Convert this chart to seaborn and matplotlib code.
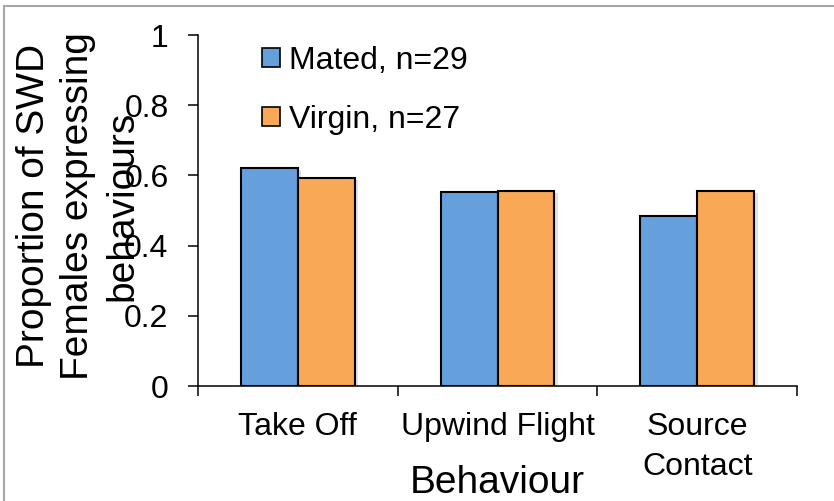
import matplotlib
matplotlib.use("Agg")
import matplotlib.pyplot as plt
import matplotlib.patheffects as pe
from matplotlib.lines import Line2D
from matplotlib.patches import Patch
from matplotlib.ticker import FixedLocator
import pandas as pd
import seaborn as sns

# Proportion of females showing each behaviour in the wind tunnel
behaviours = ["Take Off", "Upwind Flight", "Source\nContact"]
mated = [0.621, 0.552, 0.483]    # n = 29
virgin = [0.593, 0.556, 0.556]   # n = 27
groups = ["Mated, n=29", "Virgin, n=27"]
colors = ["#65A0DC", "#F9A855"]
ytick_values = [0, 0.2, 0.4, 0.6, 0.8, 1.0]
ytick_labels = ["0", "0.2", "0.4", "0.6", "0.8", "1"]

df = pd.DataFrame({
    "Behaviour": behaviours * 2,
    "Proportion": mated + virgin,
    "Group": [groups[0]] * 3 + [groups[1]] * 3,
})

sns.set_style("ticks")
plt.rcParams["font.family"] = ["Liberation Sans", "DejaVu Sans"]
plt.rcParams["text.color"] = "black"
plt.rcParams["xtick.color"] = "black"
plt.rcParams["ytick.color"] = "black"
plt.rcParams["axes.labelcolor"] = "black"

W, H = 834, 501
fig = plt.figure(figsize=(W / 100, H / 100), dpi=100)
ax = fig.add_axes([198 / W, 1 - 386 / H, (797 - 198) / W, (386 - 35) / H])

sns.barplot(data=df, x="Behaviour", y="Proportion", hue="Group",
            palette=colors, saturation=1, width=0.57, errorbar=None,
            edgecolor="black", linewidth=1.5, legend=False, ax=ax)

for bar in ax.patches:
    bar.set_path_effects([
        pe.SimplePatchShadow(offset=(2.5, -1.5), shadow_rgbFace="#888888", alpha=0.25),
        pe.Normal(),
    ])

ax.set_xlim(-0.5, 2.5)
ax.set_ylim(0, 1)
sns.despine(ax=ax)
for side in ("left", "bottom"):
    ax.spines[side].set_linewidth(1.1)
    ax.spines[side].set_color("black")

tick_font = 23
ax.set_yticks(ytick_values)
ax.set_yticklabels(ytick_labels, fontsize=tick_font)
ax.tick_params(axis="y", direction="out", length=7.2, width=1.1, pad=14)

ax.set_xticks(range(len(behaviours)))
ax.set_xticklabels(behaviours, fontsize=tick_font, linespacing=1.4)
ax.xaxis.set_minor_locator(FixedLocator([-0.5, 0.5, 1.5, 2.5]))
ax.tick_params(axis="x", which="major", length=0, pad=19)
ax.tick_params(axis="x", which="minor", direction="out", length=7, width=1.1)

ax.set_xlabel("Behaviour", fontsize=28)
ax.xaxis.set_label_coords(0.5, -0.225)
ax.set_ylabel("")
fig.text(78 / W, 1 - 206 / H, "Proportion of SWD\nFemales expressing\nbehaviours",
         rotation=90, ha="center", va="center", multialignment="center",
         fontsize=28, linespacing=1.3)

handles = [Patch(facecolor=c, edgecolor="black", linewidth=1.2, label=g)
           for c, g in zip(colors, groups)]
ax.legend(handles=handles, loc="upper left", bbox_to_anchor=(262 / W, 1 - 46 / H),
          bbox_transform=fig.transFigure, frameon=False, fontsize=tick_font,
          handlelength=0.55, handleheight=0.55, handletextpad=0.3,
          labelspacing=0.9, borderpad=0, borderaxespad=0)

# page frame around the figure
frame_kw = dict(transform=fig.transFigure, color="#a6a6a6", lw=1.5)
fig.add_artist(Line2D([4 / W, 4 / W], [0, 1 - 6 / H], **frame_kw))
fig.add_artist(Line2D([4 / W, 1], [1 - 6 / H, 1 - 6 / H], **frame_kw))

fig.savefig("out.png", dpi=100)
